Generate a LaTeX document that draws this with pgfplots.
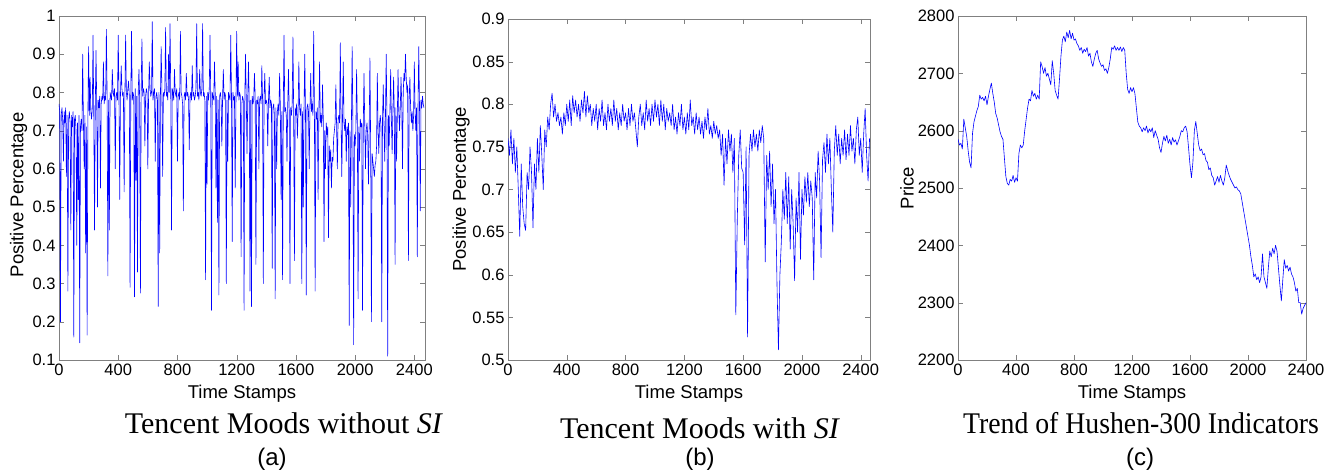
\documentclass[border=0pt]{standalone}
\usepackage{fontspec}
\setmainfont{Liberation Sans}
\newfontfamily\capfont{Liberation Serif}
\usepackage{graphicx}
\usepackage{pgfplots}
\pgfplotsset{compat=1.18}
\pgfplotsset{
 mystyle/.style={
  scale only axis, anchor=north west,
  axis line style={draw=black!50},
  tick style={draw=black!50},
  tick align=inside, major tick length=5pt,
  ticklabel style={font=\fontsize{16.5}{19}\selectfont, text=black},
  label style={font=\fontsize{18.5}{21}\selectfont},
  /pgf/number format/assume math mode=true,
  /pgf/number format/1000 sep={},
  scaled ticks=false,
  xtick={0,400,...,2400}, xmin=0,
  xlabel={Time Stamps},
  xlabel style={at={(axis description cs:0.5,0)}, anchor=base, yshift=-39pt},
 },
 myline/.style={draw=blue, line width=0.6pt, mark=none, line join=round},
}
\begin{document}
\begin{tikzpicture}
\path[use as bounding box] (0,0) rectangle (1336pt,-473pt);
% ---------------- (a)
\begin{axis}[mystyle, at={(59pt,-16pt)}, width=366pt, height=344pt,
  xmax=2472, ymin=0.1, ymax=1, ytick={0.1,0.2,0.3,0.4,0.5,0.6,0.7,0.8,0.9,1},
  ylabel={Positive Percentage},
  ylabel style={at={(axis description cs:-0.1107,0.48)}, anchor=center}]
\addplot[myline] table[row sep=\\] {
0 0.77\\5 0.75\\10 0.20\\15 0.74\\20 0.76\\25 0.73\\30 0.62\\35 0.75\\40 0.72\\45 0.76\\
50 0.58\\55 0.74\\60 0.28\\65 0.73\\70 0.75\\75 0.72\\80 0.44\\85 0.74\\90 0.71\\95 0.75\\
100 0.16\\105 0.73\\110 0.74\\115 0.70\\120 0.40\\125 0.72\\130 0.52\\135 0.74\\140 0.145\\145 0.71\\
150 0.73\\155 0.70\\160 0.90\\165 0.72\\170 0.60\\175 0.74\\180 0.38\\185 0.71\\190 0.165\\195 0.73\\
200 0.92\\205 0.74\\210 0.84\\215 0.75\\220 0.73\\225 0.76\\230 0.95\\235 0.74\\240 0.44\\245 0.76\\
250 0.91\\255 0.77\\260 0.50\\265 0.78\\270 0.76\\275 0.79\\280 0.55\\285 0.77\\290 0.79\\295 0.78\\
300 0.88\\305 0.77\\310 0.79\\315 0.78\\320 0.965\\325 0.79\\330 0.32\\335 0.78\\340 0.44\\345 0.80\\
350 0.79\\355 0.78\\360 0.86\\365 0.80\\370 0.79\\375 0.81\\380 0.60\\385 0.79\\390 0.80\\395 0.78\\
400 0.95\\405 0.80\\410 0.52\\415 0.79\\420 0.87\\425 0.81\\430 0.79\\435 0.80\\440 0.54\\445 0.79\\
450 0.95\\455 0.80\\460 0.78\\465 0.81\\470 0.83\\475 0.79\\480 0.29\\485 0.80\\490 0.96\\495 0.78\\
500 0.80\\505 0.79\\510 0.265\\515 0.81\\520 0.57\\525 0.79\\530 0.33\\535 0.80\\540 0.86\\545 0.78\\
550 0.275\\555 0.80\\560 0.94\\565 0.79\\570 0.81\\575 0.80\\580 0.66\\585 0.79\\590 0.81\\595 0.80\\
600 0.60\\605 0.79\\610 0.88\\615 0.81\\620 0.79\\625 0.80\\630 0.985\\635 0.78\\640 0.80\\645 0.81\\
650 0.62\\655 0.79\\660 0.80\\665 0.78\\670 0.24\\675 0.80\\680 0.38\\685 0.79\\690 0.92\\695 0.81\\
700 0.58\\705 0.80\\710 0.79\\715 0.81\\720 0.97\\725 0.79\\730 0.80\\735 0.78\\740 0.90\\745 0.80\\
750 0.98\\755 0.79\\760 0.44\\765 0.81\\770 0.80\\775 0.78\\780 0.86\\785 0.80\\790 0.79\\795 0.81\\
800 0.62\\805 0.79\\810 0.80\\815 0.78\\820 0.96\\825 0.80\\830 0.79\\835 0.77\\840 0.49\\845 0.79\\
850 0.80\\855 0.78\\860 0.85\\865 0.79\\870 0.80\\875 0.78\\880 0.65\\885 0.79\\890 0.80\\895 0.78\\
900 0.87\\905 0.79\\910 0.80\\915 0.78\\920 0.79\\925 0.81\\930 0.98\\935 0.79\\940 0.80\\945 0.78\\
950 0.86\\955 0.80\\960 0.79\\965 0.81\\970 0.98\\975 0.79\\980 0.80\\985 0.78\\990 0.31\\995 0.79\\
1000 0.56\\1005 0.80\\1010 0.78\\1015 0.81\\1020 0.95\\1025 0.79\\1030 0.23\\1035 0.80\\1040 0.79\\1045 0.78\\
1050 0.88\\1055 0.80\\1060 0.55\\1065 0.79\\1070 0.46\\1075 0.78\\1080 0.27\\1085 0.79\\1090 0.80\\1095 0.78\\
1100 0.66\\1105 0.79\\1110 0.86\\1115 0.78\\1120 0.80\\1125 0.79\\1130 0.30\\1135 0.78\\1140 0.62\\1145 0.80\\
1150 0.79\\1155 0.78\\1160 0.95\\1165 0.79\\1170 0.41\\1175 0.80\\1180 0.78\\1185 0.79\\1190 0.55\\1195 0.77\\
1200 0.96\\1205 0.79\\1210 0.88\\1215 0.78\\1220 0.80\\1225 0.79\\1230 0.37\\1235 0.77\\1240 0.79\\1245 0.78\\
1250 0.23\\1255 0.79\\1260 0.90\\1265 0.78\\1270 0.64\\1275 0.79\\1280 0.88\\1285 0.77\\1290 0.28\\1295 0.78\\
1300 0.24\\1305 0.79\\1310 0.77\\1315 0.78\\1320 0.85\\1325 0.79\\1330 0.35\\1335 0.78\\1340 0.77\\1345 0.79\\
1350 0.60\\1355 0.78\\1360 0.79\\1365 0.77\\1370 0.87\\1375 0.78\\1380 0.30\\1385 0.79\\1390 0.85\\1395 0.77\\
1400 0.78\\1405 0.77\\1410 0.66\\1415 0.78\\1420 0.84\\1425 0.76\\1430 0.78\\1435 0.77\\1440 0.34\\1445 0.76\\
1450 0.77\\1455 0.74\\1460 0.26\\1465 0.76\\1470 0.60\\1475 0.75\\1480 0.77\\1485 0.74\\1490 0.85\\1495 0.76\\
1500 0.52\\1505 0.75\\1510 0.31\\1515 0.77\\1520 0.95\\1525 0.75\\1530 0.76\\1535 0.74\\1540 0.62\\1545 0.77\\
1550 0.86\\1555 0.75\\1560 0.30\\1565 0.76\\1570 0.74\\1575 0.77\\1580 0.945\\1585 0.75\\1590 0.36\\1595 0.76\\
1600 0.74\\1605 0.77\\1610 0.68\\1615 0.75\\1620 0.88\\1625 0.76\\1630 0.74\\1635 0.77\\1640 0.30\\1645 0.75\\
1650 0.50\\1655 0.76\\1660 0.90\\1665 0.74\\1670 0.27\\1675 0.76\\1680 0.77\\1685 0.75\\1690 0.60\\1695 0.76\\
1700 0.85\\1705 0.75\\1710 0.77\\1715 0.74\\1720 0.96\\1725 0.76\\1730 0.28\\1735 0.75\\1740 0.73\\1745 0.76\\
1750 0.52\\1755 0.74\\1760 0.88\\1765 0.72\\1770 0.74\\1775 0.71\\1780 0.82\\1785 0.73\\1790 0.41\\1795 0.70\\
1800 0.60\\1805 0.72\\1810 0.69\\1815 0.71\\1820 0.42\\1825 0.66\\1830 0.62\\1835 0.65\\1840 0.55\\1845 0.63\\
1850 0.62\\1855 0.68\\1860 0.70\\1865 0.72\\1870 0.82\\1875 0.71\\1880 0.60\\1885 0.73\\1890 0.74\\1895 0.72\\
1900 0.93\\1905 0.73\\1910 0.58\\1915 0.74\\1920 0.88\\1925 0.72\\1930 0.70\\1935 0.73\\1940 0.62\\1945 0.71\\
1950 0.69\\1955 0.72\\1960 0.19\\1965 0.70\\1970 0.50\\1975 0.72\\1980 0.92\\1985 0.71\\1990 0.14\\1995 0.69\\
2000 0.66\\2005 0.70\\2010 0.86\\2015 0.72\\2020 0.26\\2025 0.71\\2030 0.62\\2035 0.73\\2040 0.71\\2045 0.72\\
2050 0.23\\2055 0.71\\2060 0.85\\2065 0.72\\2070 0.60\\2075 0.70\\2080 0.72\\2085 0.69\\2090 0.56\\2095 0.70\\
2100 0.89\\2105 0.66\\2110 0.20\\2115 0.64\\2120 0.62\\2125 0.60\\2130 0.58\\2135 0.61\\2140 0.62\\2145 0.66\\
2150 0.85\\2155 0.70\\2160 0.64\\2165 0.72\\2170 0.74\\2175 0.71\\2180 0.20\\2185 0.73\\2190 0.82\\2195 0.72\\
2200 0.62\\2205 0.74\\2210 0.90\\2215 0.73\\2220 0.11\\2225 0.74\\2230 0.66\\2235 0.75\\2240 0.86\\2245 0.73\\
2250 0.64\\2255 0.75\\2260 0.84\\2265 0.74\\2270 0.35\\2275 0.76\\2280 0.62\\2285 0.74\\2290 0.86\\2295 0.75\\
2300 0.70\\2305 0.76\\2310 0.84\\2315 0.77\\2320 0.60\\2325 0.80\\2330 0.85\\2335 0.83\\2340 0.90\\2345 0.84\\
2350 0.80\\2355 0.82\\2360 0.36\\2365 0.78\\2370 0.84\\2375 0.76\\2380 0.72\\2385 0.75\\2390 0.70\\2395 0.74\\
2400 0.88\\2405 0.75\\2410 0.70\\2415 0.76\\2420 0.37\\2425 0.77\\2430 0.92\\2435 0.76\\2440 0.49\\2445 0.78\\
2450 0.76\\2455 0.79\\2460 0.77\\2465 0.76\\
};
\end{axis}
% ---------------- (b)
\begin{axis}[mystyle, at={(508pt,-19pt)}, width=362pt, height=341pt,
  xmax=2463, ymin=0.5, ymax=0.9, ytick={0.5,0.55,0.6,0.65,0.7,0.75,0.8,0.85,0.9},
  ylabel={Positive Percentage},
  ylabel style={at={(axis description cs:-0.1298,0.5)}, anchor=center}]
\addplot[myline] table[row sep=\\] {
0 0.76\\10 0.74\\20 0.77\\30 0.73\\40 0.76\\50 0.72\\60 0.75\\70 0.70\\80 0.645\\90 0.73\\
100 0.68\\110 0.66\\120 0.652\\130 0.72\\140 0.70\\150 0.75\\160 0.72\\170 0.655\\180 0.73\\190 0.70\\
200 0.76\\210 0.72\\220 0.775\\230 0.74\\240 0.70\\250 0.77\\260 0.75\\270 0.785\\280 0.77\\290 0.80\\
300 0.813\\310 0.785\\320 0.80\\330 0.78\\340 0.79\\350 0.775\\360 0.785\\370 0.765\\380 0.79\\390 0.775\\
400 0.80\\410 0.78\\420 0.805\\430 0.775\\440 0.81\\450 0.79\\460 0.805\\470 0.785\\480 0.80\\490 0.78\\
500 0.805\\510 0.79\\520 0.815\\530 0.785\\540 0.81\\550 0.79\\560 0.80\\570 0.775\\580 0.795\\590 0.78\\
600 0.80\\610 0.77\\620 0.795\\630 0.78\\640 0.805\\650 0.775\\660 0.79\\670 0.77\\680 0.80\\690 0.78\\
700 0.795\\710 0.775\\720 0.805\\730 0.78\\740 0.795\\750 0.77\\760 0.79\\770 0.775\\780 0.80\\790 0.78\\
800 0.79\\810 0.77\\820 0.795\\830 0.775\\840 0.80\\850 0.78\\860 0.79\\870 0.77\\880 0.75\\890 0.785\\
900 0.80\\910 0.775\\920 0.79\\930 0.77\\940 0.805\\950 0.78\\960 0.795\\970 0.775\\980 0.80\\990 0.78\\
1000 0.805\\1010 0.785\\1020 0.80\\1030 0.775\\1040 0.805\\1050 0.78\\1060 0.80\\1070 0.77\\1080 0.795\\1090 0.78\\
1100 0.79\\1110 0.775\\1120 0.80\\1130 0.77\\1140 0.785\\1150 0.765\\1160 0.79\\1170 0.775\\1180 0.80\\1190 0.77\\
1200 0.785\\1210 0.765\\1220 0.79\\1230 0.77\\1240 0.805\\1250 0.775\\1260 0.785\\1270 0.765\\1280 0.79\\1290 0.77\\
1300 0.785\\1310 0.765\\1320 0.78\\1330 0.76\\1340 0.785\\1350 0.77\\1360 0.795\\1370 0.765\\1380 0.775\\1390 0.76\\
1400 0.78\\1410 0.765\\1420 0.775\\1430 0.76\\1440 0.77\\1450 0.74\\1460 0.765\\1470 0.705\\1480 0.76\\1490 0.73\\
1500 0.77\\1510 0.745\\1520 0.765\\1530 0.72\\1540 0.76\\1550 0.553\\1560 0.665\\1570 0.74\\1580 0.77\\1590 0.725\\
1600 0.72\\1610 0.635\\1620 0.75\\1630 0.527\\1640 0.74\\1650 0.765\\1660 0.745\\1670 0.77\\1680 0.75\\1690 0.765\\
1700 0.745\\1710 0.77\\1720 0.755\\1730 0.775\\1740 0.76\\1750 0.615\\1760 0.74\\1770 0.70\\1780 0.745\\1790 0.68\\
1800 0.73\\1810 0.66\\1820 0.70\\1830 0.59\\1840 0.512\\1850 0.60\\1860 0.64\\1870 0.70\\1880 0.665\\1890 0.72\\
1900 0.66\\1910 0.715\\1920 0.63\\1930 0.70\\1940 0.66\\1950 0.593\\1960 0.69\\1970 0.65\\1980 0.72\\1990 0.618\\
2000 0.70\\2010 0.67\\2020 0.715\\2030 0.685\\2040 0.72\\2050 0.68\\2060 0.71\\2070 0.69\\2080 0.594\\2090 0.72\\
2100 0.69\\2110 0.745\\2120 0.71\\2130 0.62\\2140 0.735\\2150 0.755\\2160 0.72\\2170 0.765\\2180 0.73\\2190 0.76\\
2200 0.70\\2210 0.65\\2220 0.745\\2230 0.775\\2240 0.74\\2250 0.765\\2260 0.73\\2270 0.76\\2280 0.74\\2290 0.77\\
2300 0.735\\2310 0.765\\2320 0.74\\2330 0.775\\2340 0.745\\2350 0.76\\2360 0.73\\2370 0.77\\2380 0.785\\2390 0.74\\
2400 0.76\\2410 0.72\\2420 0.765\\2430 0.795\\2440 0.74\\2450 0.71\\2460 0.76\\
};
\end{axis}
% ---------------- (c)
\begin{axis}[mystyle, at={(958pt,-16pt)}, width=348pt, height=344pt,
  xmax=2400, ymin=2200, ymax=2800, ytick={2200,2300,...,2800},
  ylabel={Price},
  ylabel style={at={(axis description cs:-0.1466,0.5)}, anchor=center}]
\addplot[myline] table[row sep=\\] {
0 2585\\10 2575\\20 2578\\30 2568\\40 2620\\50 2605\\60 2590\\70 2565\\80 2545\\90 2535\\
100 2595\\110 2615\\120 2625\\130 2635\\140 2642\\150 2662\\160 2655\\170 2658\\180 2652\\190 2660\\
200 2645\\210 2660\\220 2672\\230 2683\\240 2665\\250 2650\\260 2630\\270 2622\\280 2610\\290 2598\\
300 2590\\310 2585\\320 2552\\330 2520\\340 2508\\350 2505\\360 2515\\370 2512\\380 2522\\390 2510\\
400 2518\\410 2512\\420 2560\\430 2575\\440 2570\\450 2575\\460 2600\\470 2620\\480 2640\\490 2655\\
500 2652\\510 2670\\520 2660\\530 2665\\540 2655\\550 2662\\560 2655\\570 2720\\580 2712\\590 2700\\
600 2710\\610 2695\\620 2700\\630 2690\\640 2680\\650 2722\\660 2700\\670 2670\\680 2662\\690 2655\\
700 2690\\710 2730\\720 2758\\730 2765\\740 2755\\750 2772\\760 2762\\770 2775\\780 2760\\790 2770\\
800 2758\\810 2760\\820 2752\\830 2748\\840 2740\\850 2745\\860 2735\\870 2742\\880 2738\\890 2745\\
900 2730\\910 2735\\920 2720\\930 2712\\940 2725\\950 2735\\960 2740\\970 2725\\980 2718\\990 2712\\
1000 2715\\1010 2705\\1020 2708\\1030 2700\\1040 2710\\1050 2725\\1060 2745\\1070 2742\\1080 2748\\1090 2740\\
1100 2745\\1110 2740\\1120 2746\\1130 2738\\1140 2745\\1150 2740\\1160 2700\\1170 2672\\1180 2665\\1190 2675\\
1200 2668\\1210 2675\\1220 2665\\1230 2640\\1240 2615\\1250 2608\\1260 2605\\1270 2598\\1280 2605\\1290 2600\\
1300 2608\\1310 2596\\1320 2603\\1330 2598\\1340 2605\\1350 2588\\1360 2600\\1370 2592\\1380 2585\\1390 2570\\
1400 2562\\1410 2578\\1420 2590\\1430 2582\\1440 2592\\1450 2578\\1460 2585\\1470 2575\\1480 2588\\1490 2580\\
1500 2584\\1510 2575\\1520 2582\\1530 2590\\1540 2600\\1550 2598\\1560 2605\\1570 2608\\1580 2598\\1590 2570\\
1600 2540\\1610 2518\\1620 2545\\1630 2600\\1640 2616\\1650 2595\\1660 2575\\1670 2565\\1680 2568\\1690 2558\\
1700 2560\\1710 2548\\1720 2545\\1730 2532\\1740 2535\\1750 2522\\1760 2518\\1770 2505\\1780 2512\\1790 2520\\
1800 2510\\1810 2522\\1820 2512\\1830 2505\\1840 2518\\1850 2540\\1860 2530\\1870 2522\\1880 2515\\1890 2510\\
1900 2505\\1910 2500\\1920 2502\\1930 2497\\1940 2495\\1950 2490\\1960 2475\\1970 2460\\1980 2445\\1990 2430\\
2000 2415\\2010 2400\\2020 2380\\2030 2365\\2040 2345\\2050 2350\\2060 2340\\2070 2345\\2080 2335\\2090 2345\\
2100 2385\\2110 2345\\2120 2335\\2130 2325\\2140 2360\\2150 2390\\2160 2380\\2170 2395\\2180 2385\\2190 2400\\
2200 2390\\2210 2360\\2220 2330\\2230 2303\\2240 2340\\2250 2375\\2260 2360\\2270 2365\\2280 2355\\2290 2362\\
2300 2350\\2310 2345\\2320 2335\\2330 2320\\2340 2325\\2350 2300\\2360 2300\\2370 2280\\2380 2290\\2390 2295\\2400 2300\\
};
\end{axis}
% ---------------- captions
\begin{scope}[every node/.style={anchor=base, inner sep=0pt}]
\node[font=\capfont\fontsize{30}{34}\selectfont] at (284pt,-433pt) {Tencent Moods without \textit{SI}};
\node[font=\capfont\fontsize{30}{34}\selectfont] at (700pt,-438pt) {Tencent Moods with \textit{SI}};
\node[font=\capfont\fontsize{30}{34}\selectfont] at (1141pt,-433pt) {\scalebox{0.925}[1]{Trend of Hushen-300 Indicators}};
\node[font=\fontsize{24}{27}\selectfont] at (272pt,-465pt) {(a)};
\node[font=\fontsize{24}{27}\selectfont] at (700pt,-465pt) {(b)};
\node[font=\fontsize{24}{27}\selectfont] at (1140pt,-465pt) {(c)};
\end{scope}
\end{tikzpicture}
\end{document}
